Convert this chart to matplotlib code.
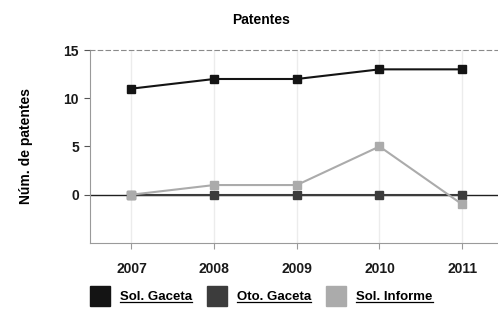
import numpy as np
import matplotlib.pyplot as plt
from matplotlib.lines import Line2D

# datos del grafico
anios = [2007, 2008, 2009, 2010, 2011]
sol_gaceta = [11, 12, 12, 13, 13]
oto_gaceta = [0, 0, 0, 0, 0]
sol_informe = [0, 1, 1, 5, -1]
series = ["Sol. Gaceta", "Oto. Gaceta", "Sol. Informe"]
colores = ["#141414", "#3c3c3c", "#ababab"]

plt.rcParams['font.family'] = ['Liberation Sans', 'DejaVu Sans']

fig = plt.figure(figsize=(4.98, 3.11), dpi=100)
ax = fig.add_axes([0.181, 0.219, 0.83, 0.62])

# rejilla vertical tenue
for a in anios:
    ax.axvline(a, color="#ececec", lw=1.0, zorder=0)
ax.axhline(0, color="#202020", lw=1.0, zorder=1)

valores = [sol_gaceta, oto_gaceta, sol_informe]
for nombre, vals, c in zip(series, valores, colores):
    ax.plot(anios, vals, color=c, lw=1.5, marker='s', markersize=5.5,
            label=nombre, zorder=3)

ax.set_xlim(2006.5, 2011.5)
ax.set_ylim(-5, 15)
ax.set_yticks([0, 5, 10, 15])
ax.set_xticks(anios)

for s in ["left", "bottom"]:
    ax.spines[s].set_color("#9a9a9a")
ax.spines["right"].set_visible(False)
ax.spines["top"].set_color("#8a8a8a")
ax.spines["top"].set_linestyle((0, (4, 3)))
ax.tick_params(axis='x', length=4, color="#9a9a9a", labelsize=10, pad=10)
ax.tick_params(axis='y', length=4, color="#555555", labelsize=10, pad=4)
for t in ax.get_xticklabels() + ax.get_yticklabels():
    t.set_fontweight("bold")
    t.set_color("#1a1a1a")

ax.set_ylabel("Núm. de patentes", fontsize=10, fontweight="bold", labelpad=22)
fig.text(0.524, 0.936, "Patentes", ha="center", va="center",
         fontsize=10, fontweight="bold")

# leyenda inferior
leyenda = fig.legend(handles=[Line2D([], [], ls="none", marker='s', markersize=14,
                                     color=c) for c in colores],
                     labels=series, loc="center", bbox_to_anchor=(0.525, 0.045),
                     ncol=3, frameon=False, fontsize=9.5, handlelength=1.5,
                     handletextpad=0.75, columnspacing=1.15)
for t in leyenda.get_texts():
    t.set_fontweight("bold")

fig.canvas.draw()
r = fig.canvas.get_renderer()
inv = fig.transFigure.inverted()
for t in leyenda.get_texts():
    bb = t.get_window_extent(r)
    (x0, y0), (x1, y1) = inv.transform([(bb.x0, bb.y0), (bb.x1, bb.y0)])
    fig.add_artist(Line2D([x0, x1], [y0 + 0.004, y0 + 0.004], color="black",
                          lw=0.9, transform=fig.transFigure))

fig.savefig("out.png", dpi=100)
